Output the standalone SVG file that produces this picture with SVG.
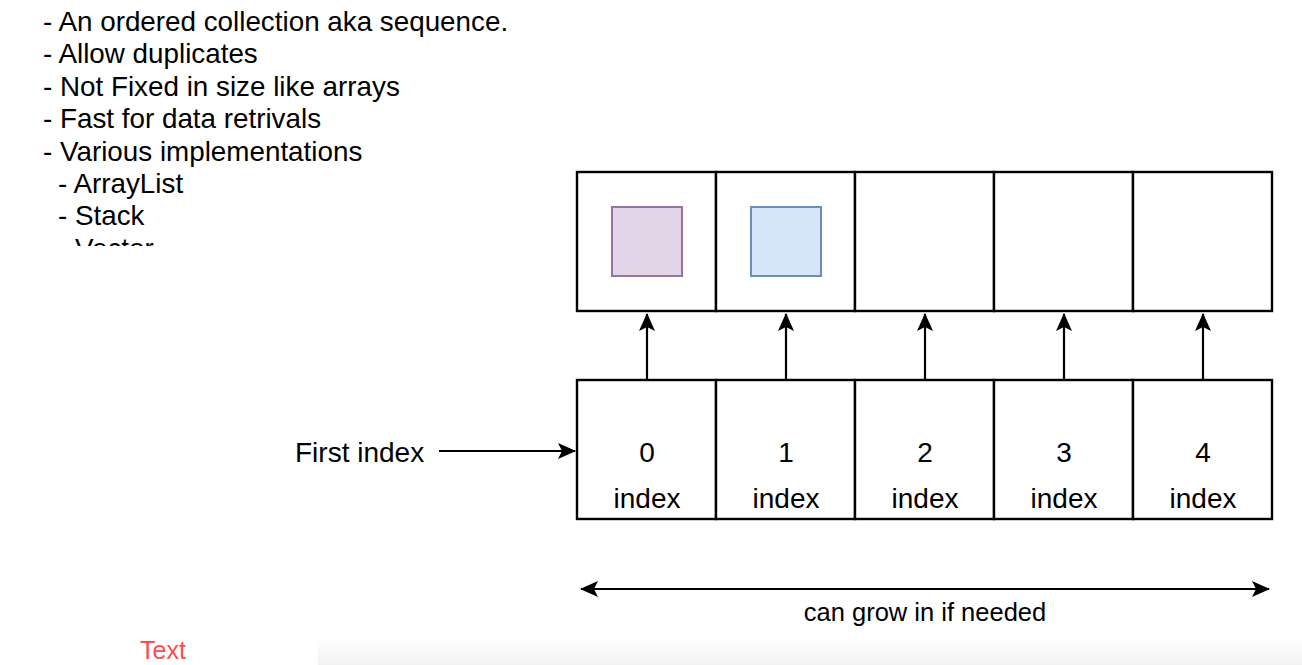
<svg xmlns="http://www.w3.org/2000/svg" width="1302" height="665" viewBox="0 0 1302 665">
<style>
text{font-family:"Liberation Sans",Arial,sans-serif;fill:#000}
.list{font-size:27.8px}
.lbl{font-size:28px;text-anchor:middle}
.cell{fill:#fff;stroke:#000;stroke-width:2.4}
.conn{stroke:#000;stroke-width:2.2;fill:none}
</style>
<defs>
<marker id="ah" markerWidth="18" markerHeight="16" viewBox="0 0 18 16" refX="17" refY="8" orient="auto" markerUnits="userSpaceOnUse">
<path d="M0,0 L18,8 L0,16 L4,8 Z" fill="#000"/>
</marker>
<marker id="ahs" markerWidth="18" markerHeight="16" viewBox="0 0 18 16" refX="1" refY="8" orient="auto" markerUnits="userSpaceOnUse">
<path d="M18,0 L0,8 L18,16 L14,8 Z" fill="#000"/>
</marker>
<clipPath id="listclip"><rect x="0" y="0" width="560" height="246"/></clipPath>
<linearGradient id="foot" x1="0" y1="0" x2="0" y2="1"><stop offset="0" stop-color="#fff"/><stop offset="1" stop-color="#f2f2f2"/></linearGradient>
</defs>
<rect x="0" y="0" width="1302" height="665" fill="#fff"/>
<rect x="318" y="636" width="984" height="29" fill="url(#foot)"/>
<g id="list" clip-path="url(#listclip)">
<text class="list" x="43" y="31">- An ordered collection aka sequence.</text>
<text class="list" x="43" y="63">- Allow duplicates</text>
<text class="list" x="43" y="96">- Not Fixed in size like arrays</text>
<text class="list" x="43" y="128">- Fast for data retrivals</text>
<text class="list" x="43" y="161">- Various implementations</text>
<text class="list" x="58" y="193">- ArrayList</text>
<text class="list" x="58" y="225">- Stack</text>
<text class="list" x="58" y="258">- Vector</text>
</g>
<g id="top-cells">
<rect class="cell" x="577" y="172" width="139" height="139"/>
<rect class="cell" x="716" y="172" width="139" height="139"/>
<rect class="cell" x="855" y="172" width="139" height="139"/>
<rect class="cell" x="994" y="172" width="139" height="139"/>
<rect class="cell" x="1133" y="172" width="139" height="139"/>
</g>
<g id="item0"><rect x="612" y="207" width="70" height="69" fill="#e1d5e7" stroke="#9673a6" stroke-width="2"/></g>
<g id="item1"><rect x="751" y="207" width="70" height="69" fill="#d4e6fa" stroke="#6c8ebf" stroke-width="2"/></g>
<g id="index0"><rect class="cell" x="577" y="380" width="139" height="139"/><text class="lbl" x="647" y="462">0</text><text class="lbl" x="647" y="508">index</text></g>
<g id="index1"><rect class="cell" x="716" y="380" width="139" height="139"/><text class="lbl" x="786" y="462">1</text><text class="lbl" x="786" y="508">index</text></g>
<g id="index2"><rect class="cell" x="855" y="380" width="139" height="139"/><text class="lbl" x="925" y="462">2</text><text class="lbl" x="925" y="508">index</text></g>
<g id="index3"><rect class="cell" x="994" y="380" width="139" height="139"/><text class="lbl" x="1064" y="462">3</text><text class="lbl" x="1064" y="508">index</text></g>
<g id="index4"><rect class="cell" x="1133" y="380" width="139" height="139"/><text class="lbl" x="1203" y="462">4</text><text class="lbl" x="1203" y="508">index</text></g>
<g id="first-index"><text x="295" y="462" style="font-size:28px">First index</text></g>
<g id="grow-label"><text x="925" y="621" style="font-size:25.5px;text-anchor:middle">can grow in if needed</text></g>
<g id="red-text"><text x="140" y="659" style="font-size:25px;fill:#ff4d4d">Text</text></g>
<g id="connectors">
<line class="conn" x1="647" y1="380" x2="647" y2="314" marker-end="url(#ah)"/>
<line class="conn" x1="786" y1="380" x2="786" y2="314" marker-end="url(#ah)"/>
<line class="conn" x1="925" y1="380" x2="925" y2="314" marker-end="url(#ah)"/>
<line class="conn" x1="1064" y1="380" x2="1064" y2="314" marker-end="url(#ah)"/>
<line class="conn" x1="1203" y1="380" x2="1203" y2="314" marker-end="url(#ah)"/>
<line class="conn" x1="439" y1="451" x2="575" y2="451" marker-end="url(#ah)"/>
<line class="conn" x1="581" y1="589" x2="1269" y2="589" marker-start="url(#ahs)" marker-end="url(#ah)"/>
</g>
</svg>
